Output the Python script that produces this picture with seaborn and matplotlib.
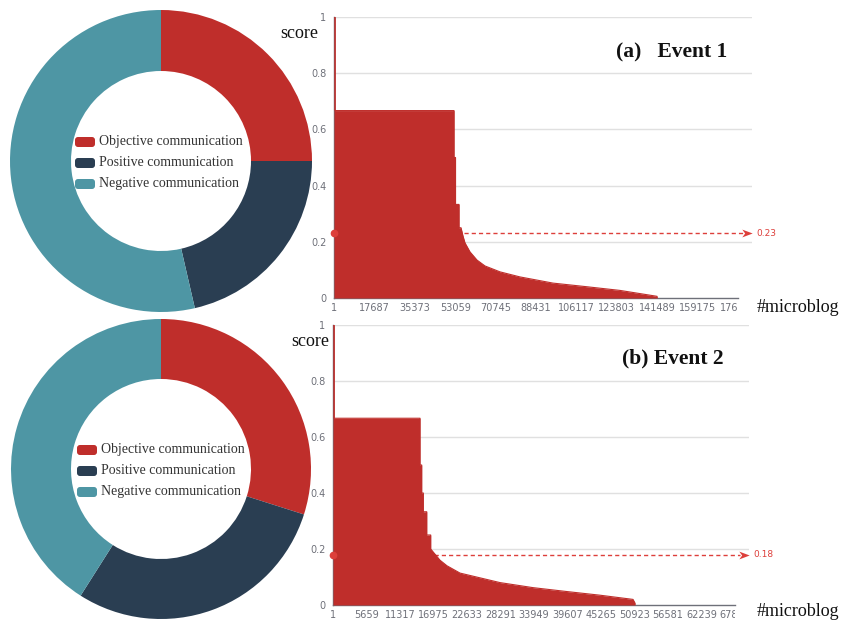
import matplotlib
matplotlib.use("Agg")
import matplotlib.pyplot as plt
import seaborn as sns
import pandas as pd
from matplotlib.patches import FancyBboxPatch
from matplotlib.path import Path
from matplotlib.transforms import Bbox, TransformedBbox

W, H = 841, 620

# ---- communication-type shares per event (percent) ----
categories = ["Objective communication", "Positive communication", "Negative communication"]
share_event1 = [25.0, 21.4, 53.6]
share_event2 = [29.9, 29.1, 41.0]

# ---- ranked microblog scores: (rank, score) pairs along the outline of each area ----
rank_event1 = [1, 500, 500, 52540, 52540, 53200, 53200, 54730, 54730, 55600, 56480,
               57350, 59540, 62600, 66100, 72680, 81430, 95880, 110770, 125200, 141400, 141489]
score_event1 = [1.0, 1.0, 0.667, 0.667, 0.5, 0.5, 0.333, 0.333, 0.25, 0.25, 0.22,
                0.196, 0.164, 0.135, 0.114, 0.093, 0.075, 0.053, 0.040, 0.027, 0.006, 0.0]

rank_event2 = [1, 200, 200, 14695, 14695, 14980, 14980, 15250, 15250, 15830, 15830,
               16500, 16500, 18070, 19250, 21450, 28210, 33780, 39520, 45100, 50670, 51000, 51000]
score_event2 = [1.0, 1.0, 0.667, 0.667, 0.5, 0.5, 0.4, 0.4, 0.333, 0.333, 0.25,
                0.25, 0.2, 0.16, 0.14, 0.114, 0.08, 0.062, 0.048, 0.035, 0.02, 0.007, 0.0]

mean_event1 = 0.23
mean_event2 = 0.18

ticks_event1 = [1, 17687, 35373, 53059, 70745, 88431, 106117, 123803, 141489, 159175, 176861]
ticks_event2 = [1, 5659, 11317, 16975, 22633, 28291, 33949, 39607, 45265, 50923, 56581, 62239, 67897]
score_ticks = [0, 0.2, 0.4, 0.6, 0.8, 1.0]
score_tick_labels = ["0", "0.2", "0.4", "0.6", "0.8", "1"]

titles = ["(a)   Event 1", "(b) Event 2"]

# ---- styling ----
sns.set_theme(style="white")
plt.rcParams["font.family"] = ["DejaVu Sans"]
palette = sns.color_palette(["#bf2e2b", "#2a3e52", "#4e96a4"])
BAR_RED = "#bf2e2b"
MARK_RED = "#dd3f3b"
AXIS_GREY = "#6e7079"
GRID_GREY = "#e0e0e0"
SERIF = "Liberation Serif"


def px_rect(left, top, right, bottom):
    return [left / W, 1 - bottom / H, (right - left) / W, (bottom - top) / H]


fig = plt.figure(figsize=(W / 100, H / 100), dpi=100)

# overlay in pixel coordinates for free-standing labels and legends
over = fig.add_axes([0, 0, 1, 1], zorder=5)
over.set_xlim(0, W)
over.set_ylim(H, 0)
over.axis("off")

arrow_marker = Path([(-1, -0.75), (1, 0), (-1, 0.75), (-0.45, 0), (-1, -0.75)],
                    [Path.MOVETO, Path.LINETO, Path.LINETO, Path.LINETO, Path.CLOSEPOLY])

panels = [
    dict(share=share_event1, rank=rank_event1, score=score_event1, mean=mean_event1,
         ticks=ticks_event1, title=titles[0],
         donut_c=(161, 161), r_out=151, r_in=90,
         box=(334, 17, 752, 298), tick_end=738,
         legend_x=75, legend_y=[142, 163, 184],
         title_xy=(672, 52), score_xy=(280, 33), micro_xy=(757, 307)),
    dict(share=share_event2, rank=rank_event2, score=score_event2, mean=mean_event2,
         ticks=ticks_event2, title=titles[1],
         donut_c=(161, 469), r_out=150, r_in=90,
         box=(333, 325, 749, 605), tick_end=735,
         legend_x=77, legend_y=[450, 471, 492],
         title_xy=(673, 358), score_xy=(291, 341), micro_xy=(757, 611)),
]

score_axes = []
for p in panels:
    # ---------- donut ----------
    cx, cy = p["donut_c"]
    dax = fig.add_axes(px_rect(cx - 160, cy - 160, cx + 160, cy + 160))
    dax.pie(p["share"], colors=palette, startangle=90, counterclock=False,
            radius=p["r_out"],
            wedgeprops=dict(width=p["r_out"] - p["r_in"], linewidth=0))
    dax.set_xlim(-160, 160)
    dax.set_ylim(-160, 160)
    dax.set_aspect("equal")
    dax.axis("off")

    for label, color, ly in zip(categories, palette, p["legend_y"]):
        over.add_patch(FancyBboxPatch((p["legend_x"], ly - 5), 20, 10,
                                      boxstyle="round,pad=0,rounding_size=3",
                                      facecolor=color, edgecolor="none"))
        over.text(p["legend_x"] + 24, ly, label, family=SERIF, fontsize=10,
                  color="#333333", va="center", ha="left")

    # ---------- ranked score area ----------
    left, top, right, bottom = p["box"]
    ax = fig.add_axes(px_rect(left, top, right, bottom))
    first, last = p["ticks"][0], p["ticks"][-1]
    per_px = (last - first) / (p["tick_end"] - left)
    xmax = first + (right - left) * per_px
    ax.set_xlim(first, xmax)
    ax.set_ylim(0, 1)

    for y in score_ticks[1:]:
        ax.axhline(y, color=GRID_GREY, lw=1, zorder=0)

    df = pd.DataFrame({"rank": p["rank"], "score": p["score"]})
    ax.fill_between(df["rank"], df["score"], color=BAR_RED, lw=0, zorder=2)
    sns.lineplot(data=df, x="rank", y="score", estimator=None, sort=False,
                 color=BAR_RED, lw=0.8, ax=ax, zorder=3)

    # average mark line
    ax.plot([first, xmax - 9 * per_px], [p["mean"], p["mean"]], ls=(0, (3, 2.2)),
            color=MARK_RED, lw=1, zorder=1, clip_on=False)
    ax.plot([first], [p["mean"]], "o", ms=4.5, color=MARK_RED, zorder=4, clip_on=False)
    ax.plot([xmax - 5 * per_px], [p["mean"]], marker=arrow_marker, ms=7.5,
            color=MARK_RED, mec="none", zorder=4, clip_on=False)
    ax.text(xmax + 4 * per_px, p["mean"], f"{p['mean']:.2f}", color=MARK_RED,
            fontsize=6.5, va="center", ha="left", clip_on=False)

    ax.set_xticks(p["ticks"])
    ax.set_xticklabels([str(t) for t in p["ticks"]])
    ax.set_yticks(score_ticks)
    ax.set_yticklabels(score_tick_labels)
    ax.tick_params(axis="both", direction="out", length=3.5, width=1, color=AXIS_GREY,
                   labelcolor=AXIS_GREY, labelsize=7, pad=2)
    ax.tick_params(axis="x", length=3, pad=0.3)
    for s in ("top", "right"):
        ax.spines[s].set_visible(False)
    for s in ("left", "bottom"):
        ax.spines[s].set_color(AXIS_GREY)
        ax.spines[s].set_linewidth(1)
        ax.spines[s].set_zorder(1)
    ax.spines["bottom"].set_bounds(first, last)
    ax.set_xlabel("")
    ax.set_ylabel("")
    ax.patch.set_alpha(0)

    # texts
    over.text(*p["title_xy"], p["title"], family=SERIF, fontweight="bold",
              fontsize=15.5, ha="center", va="center", color="#111111")
    over.text(*p["score_xy"], "score", family=SERIF, fontsize=13,
              ha="left", va="center", color="#111111")
    over.text(*p["micro_xy"], "#microblog", family=SERIF, fontsize=13,
              ha="left", va="center", color="#111111")
    score_axes.append((ax, p["tick_end"]))

# the last x tick label is cut off at the end of the axis line
fig.canvas.draw()
for ax, tick_end in score_axes:
    lab = ax.get_xticklabels()[-1]
    lab.set_clip_box(TransformedBbox(Bbox.from_extents(0, 0, tick_end / W, 1), fig.transFigure))
    lab.set_clip_on(True)

fig.savefig("out.png", dpi=100)
